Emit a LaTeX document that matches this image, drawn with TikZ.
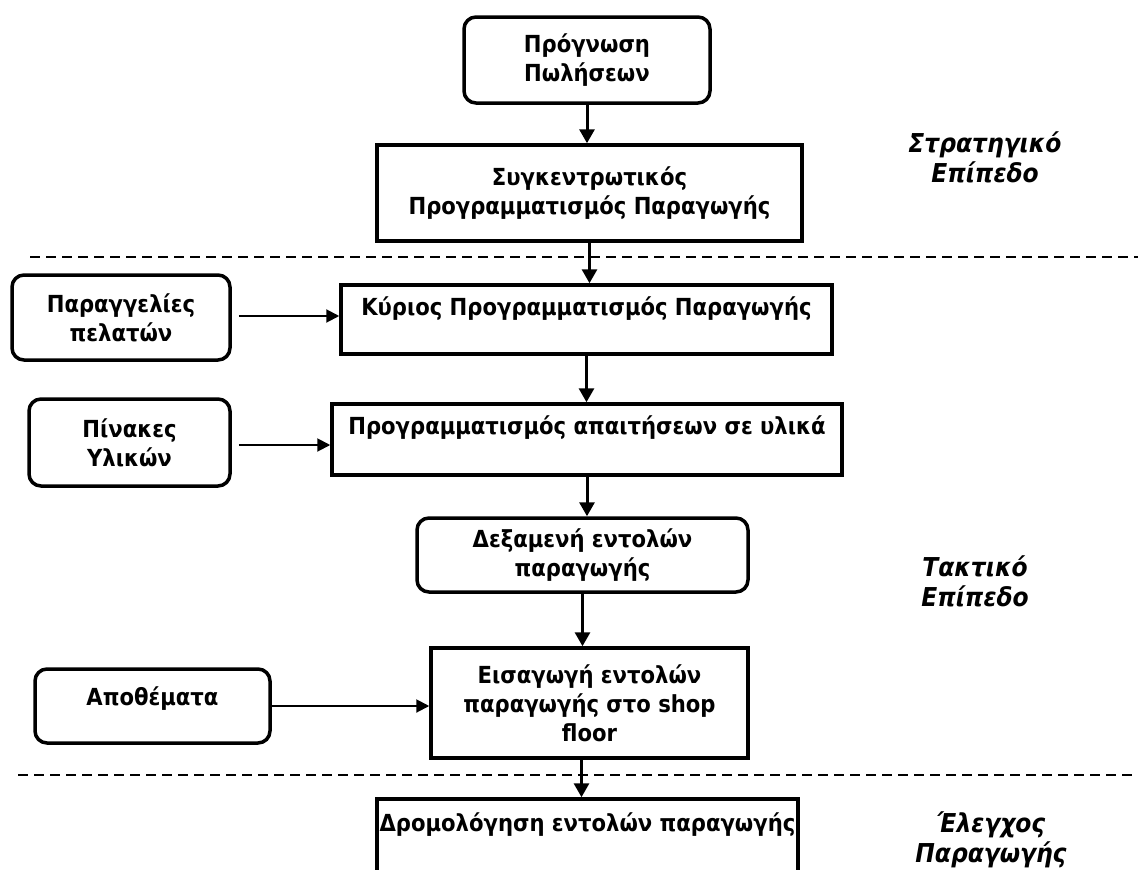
\documentclass[tikz,border=0pt]{standalone}
\usepackage{fontspec}
\setmainfont{DejaVu Sans Condensed}[
  BoldFont={DejaVu Sans Condensed Bold},
  ItalicFont={DejaVu Sans Condensed Oblique},
  BoldItalicFont={DejaVu Sans Condensed Bold Oblique}]
\usetikzlibrary{arrows.meta}
\begin{document}
\begin{tikzpicture}[x=1pt,y=-1pt,
  every node/.style={font=\bfseries\fontsize{23.5}{29}\selectfont,
    align=center, inner sep=0pt},
  proc/.style={draw, line width=3.5pt, rectangle},
  src/.style={draw, line width=3.5pt, rounded corners=12pt},
  flow/.style={-{Triangle[length=14pt,width=15pt]}, line width=3pt},
  feed/.style={-{Triangle[length=13pt,width=13pt]}, line width=2pt},
  level/.style={font=\bfseries\itshape\fontsize{26}{30}\selectfont},
  divider/.style={dash pattern=on 10pt off 6pt, line width=1.5pt}]

\clip (0,0) rectangle (1138,870);
\fill[white] (0,0) rectangle (1138,870);

% main planning chain
\node[src, minimum width=246pt, minimum height=86pt] (fore) at (587,60)
  {Πρόγνωση\\Πωλήσεων};
\node[proc, minimum width=425pt, minimum height=96pt] (aggr) at (589.5,193)
  {Συγκεντρωτικός\\Προγραμματισμός Παραγωγής};
\node[proc, minimum width=491pt, minimum height=69pt,
  text height=17pt, text depth=25pt] (mps) at (586.5,319.5)
  {Κύριος Προγραμματισμός Παραγωγής};
\node[proc, minimum width=510pt, minimum height=71pt,
  text height=17pt, text depth=27pt] (mrp) at (587,439.5)
  {Προγραμματισμός απαιτήσεων σε υλικά};
\node[src, minimum width=331pt, minimum height=74pt] (pool) at (582.5,555)
  {Δεξαμενή εντολών\\παραγωγής};
\node[proc, minimum width=317pt, minimum height=110pt] (release) at (589.5,703)
  {Εισαγωγή εντολών\\παραγωγής στο shop\\floor};
\node[proc, minimum width=421pt, minimum height=98pt,
  text height=17pt, text depth=51pt] (dispatch) at (587.5,848)
  {Δρομολόγηση εντολών παραγωγής};

% external inputs
\node[src, minimum width=218pt, minimum height=85pt] (orders) at (121,317.5)
  {Παραγγελίες\\πελατών};
\node[src, minimum width=201pt, minimum height=87pt] (bom) at (129.5,442.5)
  {Πίνακες\\Υλικών};
\node[src, minimum width=235pt, minimum height=74pt,
  text height=17pt, text depth=19pt] (stock) at (152.5,706)
  {Αποθέματα};

% level separators
\draw[divider] (30,257) -- (1138,257);
\draw[divider] (18,775) -- (1138,775);

% level labels
\node[level] (strat) at (985,157) {Στρατηγικό\\Επίπεδο};
\node[level] (tact) at (975,581) {Τακτικό\\Επίπεδο};
\node[level] (ctrl) at (991,840) {Έλεγχος\\Παραγωγής};

% vertical flow
\draw[flow] (fore.south) -- (fore.south |- aggr.north);
\draw[flow] (aggr.south) -- (aggr.south |- mps.north);
\draw[flow] (mps.south) -- (mps.south |- mrp.north);
\draw[flow] (mrp.south) -- (mrp.south |- pool.north);
\draw[flow] (pool.south) -- (pool.south |- release.north);
\draw[flow] ([xshift=-8pt]release.south) -- ([xshift=-8pt]release.south |- dispatch.north);

% inputs into the chain
\draw[feed, shorten <=7pt] ([yshift=1.5pt]orders.east) -- ([yshift=1.5pt]orders.east -| mps.west);
\draw[feed, shorten <=7pt] ([yshift=-2.5pt]bom.east) -- ([yshift=-2.5pt]bom.east -| mrp.west);
\draw[feed] (stock.east) -- (stock.east -| release.west);
\end{tikzpicture}
\end{document}
